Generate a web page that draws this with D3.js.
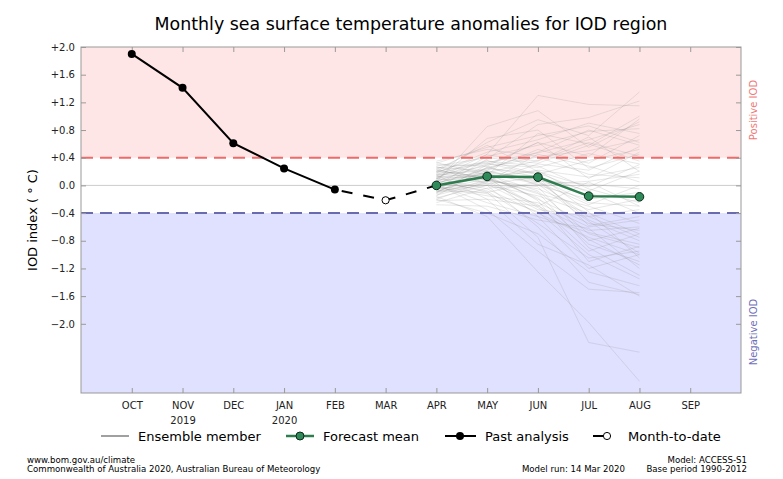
<!DOCTYPE html>
<html><head><meta charset="utf-8">
<script src="https://cdn.jsdelivr.net/npm/d3@7"></script>
<style>body{margin:0;background:#fff;} text{font-family:"DejaVu Sans",sans-serif;}</style>
</head><body><svg id="c" width="783" height="479"></svg>
<script>
const months = ["OCT","NOV","DEC","JAN","FEB","MAR","APR","MAY","JUN","JUL","AUG","SEP"];
const yearLabels = ["","2019","","2020","","","","","","","",""];
const yTicks = [2.0,1.6,1.2,0.8,0.4,0.0,-0.4,-0.8,-1.2,-1.6,-2.0];
const pastMonths = ["OCT","NOV","DEC","JAN","FEB"];
const pastValues = [1.90,1.41,0.61,0.245,-0.06];
const mtdMonth = "MAR";
const mtdValue = -0.215;
const fcMonths = ["APR","MAY","JUN","JUL","AUG"];
const fcMean = [0.0,0.13,0.12,-0.155,-0.165];
const ensemble = [
[0.10,0.45,1.30,1.17,1.15],[0.20,0.62,0.95,0.72,1.35],[0.05,0.85,1.08,0.55,0.92],[-0.05,0.38,0.88,0.98,1.22],
[0.32,0.55,0.72,0.86,0.62],[0.15,0.28,0.62,0.42,0.96],[0.00,0.42,0.58,0.78,0.82],[0.25,0.33,0.47,0.66,0.88],
[-0.10,0.22,0.52,0.32,0.72],[0.35,0.52,0.42,0.50,0.66],[0.12,0.18,0.36,0.62,0.42],[-0.20,0.06,0.31,0.22,0.56],
[0.06,0.31,0.26,0.46,0.31],[0.21,0.12,0.22,0.12,0.26],[-0.15,0.26,0.41,0.16,0.11],[0.16,0.36,0.16,0.36,0.52],
[-0.05,0.02,0.12,-0.08,0.21],[0.26,0.21,0.06,0.02,-0.05],[0.01,0.11,0.21,-0.18,-0.14],[-0.25,-0.04,0.01,0.06,0.16],
[0.08,0.68,0.80,0.25,0.45],[0.18,0.48,0.66,0.90,0.75],[-0.02,0.15,0.75,0.60,0.35],[0.28,0.40,0.32,0.58,1.00],
[0.10,0.05,0.45,0.28,0.05],[0.04,0.18,0.10,-0.25,-0.30],[-0.12,0.08,-0.05,-0.35,-0.20],[0.14,0.24,0.18,-0.10,-0.40],
[0.22,0.10,-0.12,-0.30,-0.55],[-0.08,-0.10,0.05,-0.45,-0.35],[0.30,0.28,0.00,-0.20,-0.10],[0.02,0.14,-0.20,-0.55,-0.65],
[-0.18,0.00,-0.15,-0.40,-0.70],[0.12,0.35,0.28,-0.05,-0.25],[-0.03,-0.15,-0.25,-0.60,-0.50],[0.18,0.20,0.08,-0.50,-0.80],
[-0.22,-0.20,-0.30,-0.65,-0.60],[0.07,0.16,-0.08,-0.70,-0.90],[0.24,0.02,-0.35,-0.45,-0.75],[-0.10,0.06,-0.02,-0.80,-0.62],
[0.10,-0.05,-0.40,-0.75,-1.00],[-0.06,0.26,0.12,-0.58,-0.45],[0.16,0.12,-0.18,-0.85,-1.10],[0.00,-0.25,-0.45,-0.68,-0.85],
[-0.14,0.04,-0.28,-0.95,-0.70],[0.20,0.32,0.15,-0.38,-1.05],[0.05,-0.08,-0.55,-1.05,-0.95],[-0.28,-0.30,-0.50,-0.62,-1.20],
[0.13,0.09,-0.10,-0.90,-1.30],[-0.04,0.19,-0.22,-1.10,-0.88],[0.02,-0.35,-0.95,-1.50,-1.55],[-0.16,-0.45,-1.25,-1.98,-2.83],
[0.08,-0.10,-0.75,-2.27,-2.41],[-0.08,0.00,-0.60,-1.40,-1.58],[0.15,-0.20,-0.85,-1.15,-1.60],[-0.20,-0.40,-0.70,-1.25,-1.45],
[0.11,0.14,-0.45,-1.20,-1.00],[-0.01,-0.12,-0.38,-1.00,-1.35],[0.27,0.07,-0.32,-0.78,-1.15],[-0.09,0.17,0.02,-0.52,-0.98],
[0.19,0.44,0.35,0.70,0.20],[-0.11,0.30,0.62,0.10,0.48],[0.23,0.58,0.20,-0.02,0.30],[0.03,0.24,0.48,0.80,0.58],
[-0.07,0.10,-0.30,0.05,-0.30],[0.33,0.15,0.05,-0.28,0.00]
];
const threshold = 0.4;

const svg = d3.select("#c");
const L=81, R=741, T=47, B=393;
const x = d3.scaleLinear().domain([-1,12]).range([L,R]);
const y = d3.scaleLinear().domain([-3,2]).range([B,T]);
const mi = m => months.indexOf(m);

// backgrounds
svg.append("rect").attr("x",L).attr("y",y(2)).attr("width",R-L).attr("height",y(threshold)-y(2)).attr("fill","#ffe6e6");
svg.append("rect").attr("x",L).attr("y",y(-threshold)).attr("width",R-L).attr("height",y(-3)-y(-threshold)).attr("fill","#e0e0ff");
// zero line
svg.append("line").attr("x1",L).attr("x2",R).attr("y1",y(0)).attr("y2",y(0)).attr("stroke","#cccccc").attr("stroke-width",1);

// ensemble
const lineE = d3.line().x((d,i)=>x(mi(fcMonths[i]))).y(d=>y(d));
svg.append("g").selectAll("path").data(ensemble).join("path")
  .attr("d",lineE).attr("fill","none").attr("stroke","#909090").attr("stroke-opacity",0.28).attr("stroke-width",0.8);

// thresholds
svg.append("line").attr("x1",L).attr("x2",R).attr("y1",y(threshold)).attr("y2",y(threshold))
  .attr("stroke","#f06a6a").attr("stroke-width",2).attr("stroke-dasharray","12,7");
svg.append("line").attr("x1",L).attr("x2",R).attr("y1",y(-threshold)).attr("y2",y(-threshold))
  .attr("stroke","#6a6aae").attr("stroke-width",2).attr("stroke-dasharray","12,7");

// axes frame & ticks
const yAxisL = d3.axisLeft(y).tickValues(yTicks).tickSize(-5).tickPadding(6)
  .tickFormat(d => d===0 ? "0.0" : (d>0?"+":"\u2212")+Math.abs(d).toFixed(1));
const gy = svg.append("g").attr("transform",`translate(${L},0)`).call(yAxisL);
gy.select(".domain").remove();
gy.selectAll(".tick line").attr("stroke","#999");
gy.selectAll("text").attr("font-size",10).attr("fill","#222").attr("font-family","DejaVu Sans");
const gyr = svg.append("g").attr("transform",`translate(${R},0)`).call(d3.axisRight(y).tickValues(yTicks).tickSize(-5).tickFormat(""));
gyr.select(".domain").remove(); gyr.selectAll(".tick line").attr("stroke","#999");

const xTicks = d3.range(0,12);
const gx = svg.append("g").attr("transform",`translate(0,${B})`).call(d3.axisBottom(x).tickValues(xTicks).tickSize(-5).tickPadding(9).tickFormat(i=>months[i]));
gx.select(".domain").remove(); gx.selectAll(".tick line").attr("stroke","#999");
gx.selectAll("text").attr("font-size",10).attr("fill","#222").attr("font-family","DejaVu Sans");
gx.selectAll(".tick").append("text").attr("y",24).attr("dy","0.71em").attr("text-anchor","middle")
  .attr("font-size",10).attr("fill","#222").text(i=>yearLabels[i]);
const gxt = svg.append("g").attr("transform",`translate(0,${T})`).call(d3.axisTop(x).tickValues(xTicks).tickSize(-5).tickFormat(""));
gxt.select(".domain").remove(); gxt.selectAll(".tick line").attr("stroke","#999");

svg.append("rect").attr("x",L).attr("y",T).attr("width",R-L).attr("height",B-T).attr("fill","none").attr("stroke","#999").attr("stroke-width",1);

// past analysis
const pastPts = pastMonths.map((m,i)=>[x(mi(m)),y(pastValues[i])]);
svg.append("path").attr("d",d3.line()(pastPts)).attr("fill","none").attr("stroke","#000").attr("stroke-width",2);
// month-to-date dashed
const mtdPts = [pastPts[pastPts.length-1],[x(mi(mtdMonth)),y(mtdValue)],[x(mi(fcMonths[0])),y(fcMean[0])]];
svg.append("path").attr("d",d3.line()(mtdPts)).attr("fill","none").attr("stroke","#000").attr("stroke-width",2).attr("stroke-dasharray","11,11").attr("stroke-dashoffset",-7);
svg.append("g").selectAll("circle").data(pastPts).join("circle").attr("cx",d=>d[0]).attr("cy",d=>d[1]).attr("r",4).attr("fill","#000");
svg.append("circle").attr("cx",x(mi(mtdMonth))).attr("cy",y(mtdValue)).attr("r",3.6).attr("fill","#fff").attr("stroke","#000").attr("stroke-width",1);

// forecast mean
const fcPts = fcMonths.map((m,i)=>[x(mi(m)),y(fcMean[i])]);
svg.append("path").attr("d",d3.line()(fcPts)).attr("fill","none").attr("stroke","#2e7d4f").attr("stroke-width",2.5);
svg.append("g").selectAll("circle").data(fcPts).join("circle").attr("cx",d=>d[0]).attr("cy",d=>d[1]).attr("r",4.3)
  .attr("fill","#2f8a5a").attr("stroke","#0b2a18").attr("stroke-width",1);

// title
svg.append("text").attr("x",411).attr("y",30).attr("text-anchor","middle").attr("font-size",17.4).attr("fill","#000")
  .text("Monthly sea surface temperature anomalies for IOD region");
// y label
svg.append("text").attr("transform","translate(37,220) rotate(-90)").attr("text-anchor","middle").attr("font-size",13).attr("fill","#000")
  .text("IOD index ( \u00b0 C)");
// right labels
svg.append("text").attr("transform","translate(757,110) rotate(-90)").attr("text-anchor","middle").attr("font-size",10).attr("fill","#f07878").text("Positive IOD");
svg.append("text").attr("transform","translate(757,332) rotate(-90)").attr("text-anchor","middle").attr("font-size",10).attr("fill","#6e6eb8").text("Negative IOD");

// legend
const lg = svg.append("g").attr("font-size",13);
const ly = 436;
lg.append("line").attr("x1",101).attr("x2",129).attr("y1",ly).attr("y2",ly).attr("stroke","#a0a0a0").attr("stroke-width",2);
lg.append("text").attr("x",138).attr("y",ly+5).text("Ensemble member");
lg.append("line").attr("x1",286).attr("x2",314).attr("y1",ly).attr("y2",ly).attr("stroke","#2e7d4f").attr("stroke-width",2.5);
lg.append("circle").attr("cx",300).attr("cy",ly).attr("r",4).attr("fill","#2f8a5a").attr("stroke","#0b2a18");
lg.append("text").attr("x",323).attr("y",ly+5).text("Forecast mean");
lg.append("line").attr("x1",445).attr("x2",476).attr("y1",ly).attr("y2",ly).attr("stroke","#000").attr("stroke-width",2);
lg.append("circle").attr("cx",460).attr("cy",ly).attr("r",4).attr("fill","#000");
lg.append("text").attr("x",485).attr("y",ly+5).text("Past analysis");
lg.append("line").attr("x1",593).attr("x2",603).attr("y1",ly).attr("y2",ly).attr("stroke","#000").attr("stroke-width",2);
lg.append("circle").attr("cx",607).attr("cy",ly).attr("r",3.6).attr("fill","#fff").attr("stroke","#000");
lg.append("text").attr("x",628).attr("y",ly+5).text("Month-to-date");

// footer
const ft = svg.append("g").attr("font-size",8.6).attr("fill","#000");
ft.append("text").attr("x",27).attr("y",463).text("www.bom.gov.au/climate");
ft.append("text").attr("x",27).attr("y",472).text("Commonwealth of Australia 2020, Australian Bureau of Meteorology");
ft.append("text").attr("x",625).attr("y",472).attr("text-anchor","end").text("Model run: 14 Mar 2020");
ft.append("text").attr("x",747).attr("y",463).attr("text-anchor","end").text("Model: ACCESS-S1");
ft.append("text").attr("x",747).attr("y",472).attr("text-anchor","end").text("Base period 1990-2012");
</script></body></html>
